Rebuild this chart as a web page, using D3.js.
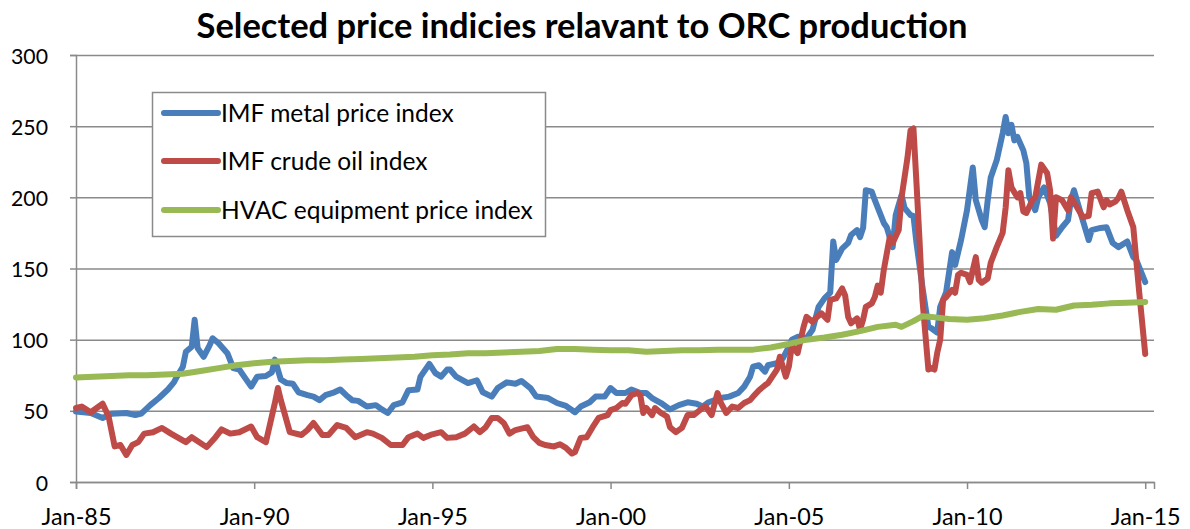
<!DOCTYPE html>
<html>
<head>
<meta charset="utf-8">
<script src="https://cdn.jsdelivr.net/npm/d3@7"></script>
<style>
  body { margin: 0; background: #fff; }
  svg { display: block; }
</style>
</head>
<body>
<svg id="chart" width="1190" height="529"></svg>
<script>
// ---- data -------------------------------------------------------------
const titleText = "Selected price indicies relavant to ORC production";
const seriesNames = ["IMF metal price index", "IMF crude oil index", "HVAC equipment price index"];
const seriesColors = ["#4a7ebb", "#be4b48", "#98b954"];

const yTicks = [0, 50, 100, 150, 200, 250, 300];
const xTickDates = ["1985-01", "1990-01", "1995-01", "2000-01", "2005-01", "2010-01", "2015-01"];

const metalDates = [
  "1985-01","1985-06","1985-10","1986-01","1986-06","1986-09","1986-11","1987-02","1987-05","1987-08",
  "1987-10","1987-11","1988-01","1988-02","1988-04","1988-05","1988-06","1988-08","1988-10","1988-11",
  "1989-01","1989-04","1989-06","1989-08","1989-10","1989-12","1990-02","1990-05","1990-07","1990-08",
  "1990-10","1990-12","1991-02","1991-04","1991-07","1991-09","1991-11","1992-01","1992-04","1992-06",
  "1992-08","1992-10","1992-12","1993-03","1993-06","1993-08","1993-10","1993-12","1994-03","1994-05",
  "1994-08","1994-09","1994-11","1994-12","1995-02","1995-04","1995-06","1995-07","1995-09","1996-01",
  "1996-04","1996-06","1996-09","1996-11","1997-02","1997-05","1997-07","1997-10","1997-12","1998-04",
  "1998-07","1998-10","1999-01","1999-03","1999-06","1999-08","1999-11","2000-01","2000-03","2000-06",
  "2000-08","2000-11","2001-01","2001-03","2001-06","2001-09","2001-12","2002-03","2002-06","2002-08",
  "2002-10","2003-02","2003-05","2003-08","2003-10","2003-12","2004-01","2004-03","2004-05","2004-06",
  "2004-09","2004-11","2005-01","2005-02","2005-04","2005-07","2005-09","2005-11","2006-01","2006-03",
  "2006-04","2006-05","2006-07","2006-09","2006-10","2006-12","2007-01","2007-02","2007-03","2007-05",
  "2007-06","2007-09","2007-10","2007-12","2008-01","2008-03","2008-04","2008-06","2008-07","2008-08",
  "2008-10","2008-12","2009-01","2009-03","2009-04","2009-06","2009-08","2009-09","2009-11","2010-01",
  "2010-03","2010-04","2010-06","2010-07","2010-08","2010-09","2010-11","2011-01","2011-02","2011-03",
  "2011-04","2011-05","2011-06","2011-08","2011-09","2011-10","2011-12","2012-01","2012-03","2012-05",
  "2012-07","2012-09","2012-11","2012-12","2013-01","2013-03","2013-06","2013-07","2013-10","2013-12",
  "2014-02","2014-04","2014-07","2014-09","2014-10","2015-01"
];
const metalValues = [
  49.5,48.5,45,48,48.5,47,48,54,59,65,
  70,74,81,91.5,95,114,94,88,96,101,
  97.5,90.5,80,79,73,67,74,74.5,77,86,
  72,69.5,69,63,61,60,57.5,61,63,65,
  61,57.5,57,53,54,51,48.5,54,56,64.5,
  65,74,80,83,76.5,74,79,79,74,69.5,
  71.5,63,60,66,70,69,71,66,60,59,
  55.5,53.5,49,53,56,60,60,66,62.5,62.5,
  65,62.5,62.5,59,55.5,51,54,56,55,53,
  56,59,60,62.5,67,74,81,82,77.5,82,
  83.5,87,95,100,102,101,107,123,129,133,
  169,156,164,168,173.5,177,172,178.5,205,204,
  198,182,179,165,187.5,201.5,192.5,187.5,187,168,
  137,109,108,105,123,133.5,161.5,152.5,170,191,
  221,198,184,179,198,214,226,245,256.5,245,
  251,240,242.5,233,224,200,191,200,207,196,
  173,179,184,198,205,191,170,177,178.5,179,
  168,165,169,158,156,140.5
];

const oilDates = [
  "1985-01","1985-03","1985-06","1985-10","1985-12","1986-02","1986-04","1986-06","1986-08","1986-10",
  "1986-12","1987-03","1987-06","1987-09","1988-02","1988-04","1988-09","1988-12","1989-02","1989-05",
  "1989-08","1989-12","1990-02","1990-05","1990-08","1990-09","1990-10","1991-01","1991-05","1991-07",
  "1991-09","1991-12","1992-02","1992-05","1992-08","1992-11","1993-03","1993-05","1993-08","1993-11",
  "1994-03","1994-05","1994-08","1994-10","1995-01","1995-04","1995-06","1995-09","1995-12","1996-03",
  "1996-05","1996-07","1996-09","1996-11","1997-01","1997-03","1997-05","1997-09","1997-11","1998-01",
  "1998-03","1998-06","1998-08","1998-10","1998-12","1999-01","1999-03","1999-05","1999-07","1999-09",
  "1999-12","2000-01","2000-03","2000-05","2000-06","2000-08","2000-10","2000-11","2000-12","2001-01",
  "2001-03","2001-04","2001-06","2001-08","2001-09","2001-11","2002-01","2002-03","2002-05","2002-08",
  "2002-09","2002-11","2003-01","2003-02","2003-04","2003-06","2003-08","2003-10","2003-12","2004-01",
  "2004-03","2004-05","2004-06","2004-09","2004-10","2004-12","2005-01","2005-02","2005-04","2005-06",
  "2005-07","2005-09","2005-10","2005-12","2006-02","2006-03","2006-05","2006-07","2006-08","2006-09",
  "2006-10","2006-12","2007-01","2007-02","2007-03","2007-05","2007-06","2007-07","2007-08","2007-09",
  "2007-11","2007-12","2008-02","2008-03","2008-05","2008-06","2008-07","2008-08","2008-09","2008-10",
  "2008-12","2009-01","2009-02","2009-03","2009-04","2009-05","2009-06","2009-08","2009-09","2009-10",
  "2009-11","2010-01","2010-02","2010-04","2010-05","2010-06","2010-08","2010-09","2010-11","2011-01",
  "2011-02","2011-03","2011-04","2011-06","2011-07","2011-08","2011-09","2011-11","2011-12","2012-02",
  "2012-04","2012-05","2012-06","2012-07","2012-09","2012-11","2012-12","2013-02","2013-04","2013-06",
  "2013-07","2013-09","2013-11","2013-12","2014-01","2014-03","2014-04","2014-05","2014-07","2014-09",
  "2014-10","2014-11","2015-01"
];
const oilValues = [
  52,53,49,55,46,25,26,19,26,28,
  34,35,38,34,28,31.5,24.5,31.5,37,34,
  35,39,31.5,28,55.5,66,57.5,35,33,36.5,
  41.5,33,33,40,38,31.5,35,34,31,26,
  26,31.5,34,31,33.5,35,31,31.5,34,39,
  35,38.5,45,45,41.5,34,36.5,38.5,31.5,27.5,
  26,25,26.5,24,20,21,31,31.5,38.5,45,
  47,50.5,52,55.5,55,61,62.5,61,48.5,52,
  47,52,48.5,46,38.5,35,38,47,47,52,
  53,47,62.5,56,48.5,53,52,55.5,57.5,60,
  64.5,68,69.5,79,88,74,81,96,90.5,109,
  116,112.5,115,118.5,114,128,129,136,131,116,
  111.5,115,107,114,123,125.5,130,138,133,149,
  172,168,177,200,228,247,248.5,210,170,128,
  79,80,79,90.5,100,128,130,135,133,145.5,
  147,145.5,140.5,158,142,140,143,154,165,175,
  193,219,207,200,203,190,189,198,200,223,
  217,205,171,200,198,191,200,193,186,187,
  203,204,193,198,195,197,199.5,204,191,179,
  156,133,90
];

const hvacDates = [
  "1985-01","1985-07","1986-01","1986-07","1987-01","1987-07","1988-01","1988-07","1989-01","1989-07",
  "1990-01","1990-07","1991-01","1991-07","1992-01","1992-07","1993-01","1993-07","1994-01","1994-07",
  "1995-01","1995-07","1996-01","1996-07","1997-01","1997-07","1998-01","1998-07","1999-01","1999-07",
  "2000-01","2000-07","2001-01","2001-07","2002-01","2002-07","2003-01","2003-07","2004-01","2004-07",
  "2005-01","2005-07","2006-01","2006-07","2007-01","2007-07","2008-01","2008-03","2008-07","2008-10",
  "2009-01","2009-07","2010-01","2010-07","2011-01","2011-07","2012-01","2012-07","2013-01","2013-07",
  "2014-01","2014-07","2015-01"
];
const hvacValues = [
  73.5,74,74.5,75,75,75.5,76,78,80,82,
  83.5,84.5,85,85.5,85.5,86,86.5,87,87.5,88,
  89,89.5,90.5,90.5,91,91.5,92,93.5,93.5,93,
  92.5,92.5,91.5,92,92.5,92.5,93,93,93,94.5,
  97,100,101.5,103.5,106,109,110.5,109,113,116.5,
  116,114.5,114,115,117,119.5,121.5,121,124,124.5,
  125.5,126,126.5
];

// ---- setup ------------------------------------------------------------
const parseMonth = d3.timeParse("%Y-%m");
const svg = d3.select("#chart");
const fontFamily = "Lato, 'Noto Sans', sans-serif";

const plot = { left: 76, right: 1154, top: 55, bottom: 482 };

const x = d3.scaleTime()
  .domain([parseMonth("1985-01"), parseMonth("2015-04")])
  .range([plot.left, plot.right]);
const y = d3.scaleLinear()
  .domain([0, 300])
  .range([plot.bottom, plot.top]);

// scale a text element's font so that it spans the given width
function fitWidth(sel, target) {
  const w = sel.node().getComputedTextLength();
  const fs = parseFloat(sel.attr("font-size"));
  return fs * target / w;
}

// ---- gridlines --------------------------------------------------------
svg.append("g")
  .attr("transform", `translate(${plot.left},0)`)
  .call(d3.axisLeft(y).tickValues(yTicks).tickSize(-(plot.right - plot.left)).tickFormat(""))
  .call(g => g.select(".domain").remove())
  .call(g => g.selectAll("line").attr("stroke", "#8a8a8a").attr("stroke-width", 1.5));

// ---- axes -------------------------------------------------------------
const yAxis = svg.append("g")
  .attr("transform", `translate(${plot.left},0)`)
  .call(d3.axisLeft(y).tickValues(yTicks).tickSize(6).tickPadding(0).tickFormat(d3.format("d")));
yAxis.select(".domain").attr("stroke", "#8a8a8a").attr("stroke-width", 1.5);
yAxis.selectAll("line").attr("stroke", "#8a8a8a").attr("stroke-width", 1.5);
yAxis.selectAll("text")
  .attr("x", 48 - plot.left).attr("dy", null).attr("y", 8)
  .attr("fill", "#000").attr("font-family", fontFamily).attr("font-size", 22);

const xAxis = svg.append("g")
  .attr("transform", `translate(0,${plot.bottom})`)
  .call(d3.axisBottom(x).tickValues(xTickDates.map(parseMonth)).tickSize(7).tickFormat(d3.timeFormat("%b-%y")));
xAxis.select(".domain").attr("stroke", "#8a8a8a").attr("stroke-width", 1.5);
xAxis.selectAll("line").attr("stroke", "#8a8a8a").attr("stroke-width", 1.5);
xAxis.selectAll("text")
  .attr("dy", null).attr("y", 43)
  .attr("fill", "#000").attr("font-family", fontFamily).attr("font-size", 22);

// size tick labels to their measured widths
{
  const yl = yAxis.selectAll("text").filter(d => d === 300);
  yAxis.selectAll("text").attr("font-size", fitWidth(yl, 37));
  const xl = xAxis.selectAll("text").filter((d, i) => i === 0);
  xAxis.selectAll("text").attr("font-size", fitWidth(xl, 70));
}

// ---- series lines -----------------------------------------------------
const series = [
  { name: seriesNames[0], color: seriesColors[0], dates: metalDates, values: metalValues },
  { name: seriesNames[1], color: seriesColors[1], dates: oilDates, values: oilValues },
  { name: seriesNames[2], color: seriesColors[2], dates: hvacDates, values: hvacValues }
];

const line = d3.line()
  .x(d => x(d.date))
  .y(d => y(d.value));

svg.append("g")
  .selectAll("path")
  .data(series)
  .join("path")
  .attr("d", s => line(s.dates.map((d, i) => ({ date: parseMonth(d), value: s.values[i] }))))
  .attr("fill", "none")
  .attr("stroke", s => s.color)
  .attr("stroke-width", 6)
  .attr("stroke-linejoin", "round")
  .attr("stroke-linecap", "round");

// ---- legend -----------------------------------------------------------
const legend = svg.append("g");
legend.append("rect")
  .attr("x", 152.5).attr("y", 92.5)
  .attr("width", 393).attr("height", 144)
  .attr("fill", "#fff")
  .attr("stroke", "#8a8a8a").attr("stroke-width", 1.5);

const legendRows = [113, 161, 210];
const items = legend.selectAll("g.item")
  .data(series)
  .join("g")
  .attr("class", "item")
  .attr("transform", (s, i) => `translate(0,${legendRows[i]})`);
items.append("line")
  .attr("x1", 164).attr("x2", 218)
  .attr("stroke", s => s.color)
  .attr("stroke-width", 6)
  .attr("stroke-linecap", "round");
items.append("text")
  .attr("x", 221).attr("y", 9)
  .attr("font-family", fontFamily).attr("font-size", 24)
  .attr("fill", "#000")
  .text(s => s.name);
{
  const longest = items.filter((s, i) => i === 2).select("text");
  const fs = fitWidth(longest, 312);
  items.selectAll("text").attr("font-size", fs);
}

// ---- title ------------------------------------------------------------
const title = svg.append("text")
  .attr("x", 582).attr("y", 38)
  .attr("text-anchor", "middle")
  .attr("font-family", fontFamily)
  .attr("font-weight", "bold")
  .attr("font-size", 30)
  .attr("fill", "#000")
  .text(titleText);
title.attr("font-size", fitWidth(title, 771));
</script>
</body>
</html>
